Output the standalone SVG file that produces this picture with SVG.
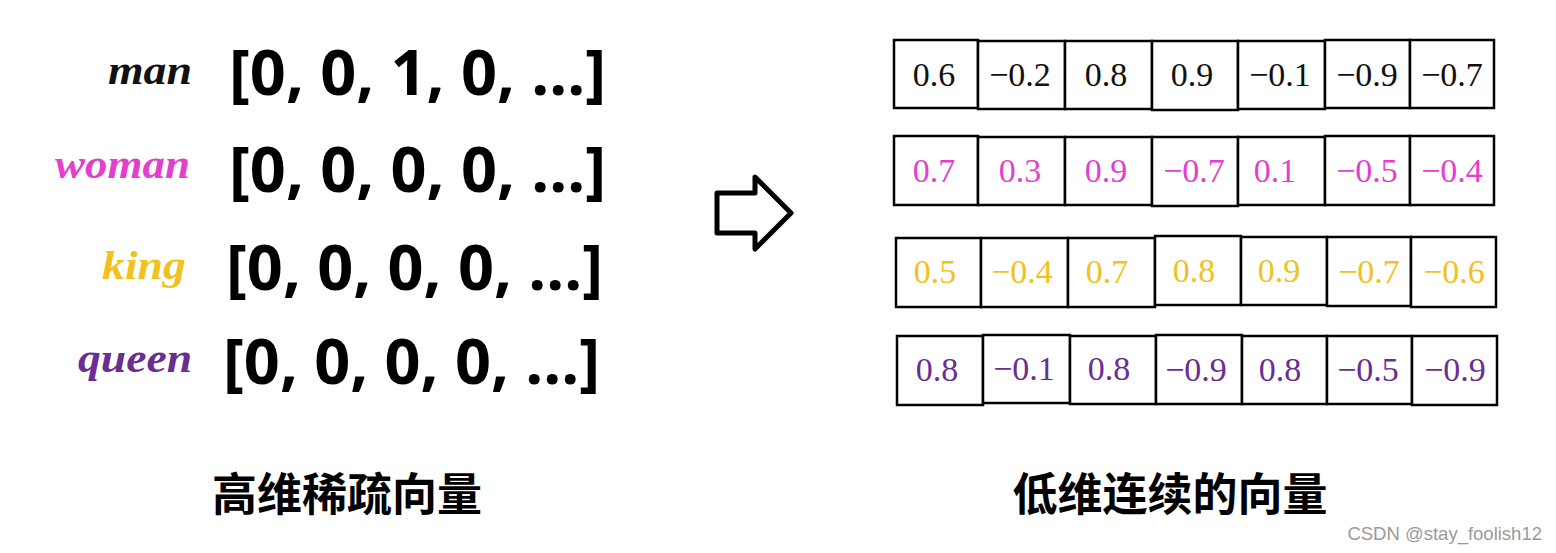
<svg xmlns="http://www.w3.org/2000/svg" width="1556" height="553" viewBox="0 0 1556 553">
<style>
.lbl{font-family:"Liberation Serif",serif;font-style:italic;font-weight:bold;font-size:41px;text-anchor:end}
.vec{font-family:"Open Sans","Liberation Sans",sans-serif;font-weight:bold;font-size:63px;fill:#000}
.cell{fill:#fff;stroke:#000;stroke-width:2.5}
.num{font-family:"Liberation Serif",serif;font-size:34px;text-anchor:middle}
.title{font-family:"Noto Sans CJK SC",sans-serif;font-weight:bold;font-size:45px;text-anchor:middle;fill:#000}
.k{fill:#111}.w{fill:#e23fcf}.g{fill:#f1c11c}.q{fill:#6a2d92}
</style>
<rect width="1556" height="553" fill="#fff"/>
<g id="sparse">
<g id="row-man"><text class="lbl k" x="192" y="84" textLength="84" lengthAdjust="spacingAndGlyphs">man</text><text class="vec" x="229" y="95">[0, 0, 1, 0, ...]</text></g>
<g id="row-woman"><text class="lbl w" x="190" y="178" textLength="135" lengthAdjust="spacingAndGlyphs">woman</text><text class="vec" x="229" y="192">[0, 0, 0, 0, ...]</text></g>
<g id="row-king"><text class="lbl g" x="186" y="279" textLength="84" lengthAdjust="spacingAndGlyphs">king</text><text class="vec" x="226" y="290">[0, 0, 0, 0, ...]</text></g>
<g id="row-queen"><text class="lbl q" x="192" y="372" textLength="114" lengthAdjust="spacingAndGlyphs">queen</text><text class="vec" x="223" y="384">[0, 0, 0, 0, ...]</text></g>
</g>
<g id="connectors">
<polygon points="717,193 755,193 755,177 791,213 755,249 755,233 717,233" fill="#fff" stroke="#000" stroke-width="5" stroke-linejoin="round"/>
</g>
<g id="dense-man">
<rect class="cell" x="894" y="40" width="84" height="68"/><rect class="cell" x="978" y="41" width="87" height="68"/><rect class="cell" x="1065" y="41" width="87" height="68"/><rect class="cell" x="1152" y="41" width="86" height="69"/><rect class="cell" x="1238" y="41" width="87" height="68"/><rect class="cell" x="1325" y="40" width="85" height="68"/><rect class="cell" x="1410" y="40" width="84" height="68"/>
<g class="k"><text class="num" x="934" y="86">0.6</text><text class="num" x="1020" y="86">−0.2</text><text class="num" x="1106" y="86">0.8</text><text class="num" x="1192" y="86">0.9</text><text class="num" x="1280" y="86">−0.1</text><text class="num" x="1367" y="86">−0.9</text><text class="num" x="1452" y="86">−0.7</text></g>
</g>
<g id="dense-woman">
<rect class="cell" x="894" y="136" width="84" height="69"/><rect class="cell" x="978" y="137" width="87" height="68"/><rect class="cell" x="1065" y="137" width="87" height="68"/><rect class="cell" x="1152" y="137" width="86" height="69"/><rect class="cell" x="1238" y="137" width="87" height="68"/><rect class="cell" x="1325" y="136" width="85" height="69"/><rect class="cell" x="1410" y="136" width="84" height="69"/>
<g class="w"><text class="num" x="934" y="182">0.7</text><text class="num" x="1020" y="182">0.3</text><text class="num" x="1106" y="182">0.9</text><text class="num" x="1194" y="182">−0.7</text><text class="num" x="1275" y="182">0.1</text><text class="num" x="1367" y="182">−0.5</text><text class="num" x="1452" y="182">−0.4</text></g>
</g>
<g id="dense-king">
<rect class="cell" x="896" y="238" width="85" height="69"/><rect class="cell" x="981" y="238" width="87" height="69"/><rect class="cell" x="1068" y="238" width="87" height="69"/><rect class="cell" x="1155" y="236" width="86" height="69"/><rect class="cell" x="1241" y="237" width="86" height="68"/><rect class="cell" x="1327" y="237" width="84" height="69"/><rect class="cell" x="1411" y="237" width="85" height="70"/>
<g class="g"><text class="num" x="935" y="283">0.5</text><text class="num" x="1022" y="283">−0.4</text><text class="num" x="1107" y="283">0.7</text><text class="num" x="1194" y="282">0.8</text><text class="num" x="1279" y="282">0.9</text><text class="num" x="1369" y="283">−0.7</text><text class="num" x="1454" y="283">−0.6</text></g>
</g>
<g id="dense-queen">
<rect class="cell" x="897" y="336" width="86" height="69"/><rect class="cell" x="983" y="335" width="87" height="68"/><rect class="cell" x="1070" y="336" width="86" height="68"/><rect class="cell" x="1156" y="335" width="86" height="69"/><rect class="cell" x="1242" y="336" width="85" height="68"/><rect class="cell" x="1327" y="336" width="85" height="68"/><rect class="cell" x="1412" y="336" width="85" height="69"/>
<g class="q"><text class="num" x="937" y="381">0.8</text><text class="num" x="1024" y="380">−0.1</text><text class="num" x="1109" y="380">0.8</text><text class="num" x="1196" y="381">−0.9</text><text class="num" x="1280" y="381">0.8</text><text class="num" x="1368" y="381">−0.5</text><text class="num" x="1455" y="381">−0.9</text></g>
</g>
<g id="titles">
<text class="title" x="347" y="511">高维稀疏向量</text>
<text class="title" x="1170" y="511">低维连续的向量</text>
</g>
<text x="1542" y="540" text-anchor="end" font-family="Liberation Sans,sans-serif" font-size="18.5" fill="#9a9a9a">CSDN @stay_foolish12</text>
</svg>
